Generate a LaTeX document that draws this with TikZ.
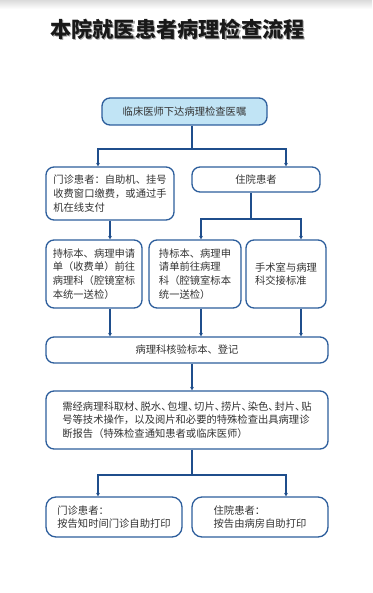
\documentclass[tikz,border=0pt]{standalone}
\usepackage{fontspec}
\setmainfont{Noto Sans CJK SC}
\usepackage{xcolor}
\usetikzlibrary{arrows.meta}
\definecolor{edgeblue}{HTML}{2D5E9C}
\definecolor{lineblue}{HTML}{1F4E8C}
\definecolor{paleblue}{HTML}{C1E4F5}
\definecolor{inkgray}{HTML}{333333}
\newcommand{\dun}{\makebox[0.6em][l]{、}}

\begin{document}
\begin{tikzpicture}[x=1pt,y=-1pt,
    box/.style={draw=edgeblue,line width=1.3pt,rounded corners=8pt,fill=white,
      text=inkgray,font=\fontsize{10.3}{13.7}\selectfont,inner sep=2pt},
    trunk/.style={draw=lineblue,line width=2.2pt},
    branch/.style={draw=lineblue,line width=1.1pt},
    tip/.style={-{Stealth[length=3.5pt,width=3.8pt]}}]
    \useasboundingbox (0,0) rectangle (372,593);
    \shade[top color=black!14,bottom color=white] (0,0) rectangle (372,9);
    % title
    \node[text=black!35,font=\fontsize{21.2}{24}\selectfont\bfseries] (titleshadow) at (178.6,30) {本院就医患者病理检查流程};
    \node[text=black!90,font=\fontsize{21.2}{24}\selectfont\bfseries] (title) at (177.5,29) {本院就医患者病理检查流程};
    % boxes
    \node[box,fill=paleblue,minimum width=165,minimum height=27] (order) at (184.5,111.5) {临床医师下达病理检查医嘱};
    \node[box,align=left,minimum width=128,minimum height=53] (outp) at (110,193.5) {门诊患者：自助机、挂号\\收费窗口缴费，或通过手\\机在线支付};
    \node[box,minimum width=128,minimum height=25] (inp) at (256,179.5) {住院患者};
    \node[box,align=left,minimum width=96,minimum height=68] (carrya) at (94,274) {持标本、病理申请\\单（收费单）前往\\病理科（腔镜室标\\本统一送检）};
    \node[box,align=left,minimum width=92,minimum height=68] (carryb) at (195,274) {持标本、病理申\\请单前往病理\\科（腔镜室标本\\统一送检）};
    \node[box,align=left,minimum width=80,minimum height=68] (surg) at (286,274) {手术室与病理\\科交接标准};
    \node[box,minimum width=282,minimum height=26] (verify) at (187,350) {病理科核验标本、登记};
    \node[box,align=left,minimum width=282,minimum height=58] (proc) at (187,420) {需经病理科取材\dun 脱水\dun 包埋\dun 切片\dun 捞片\dun 染色\dun 封片\dun 贴\\号等技术操作，以及阅片和必要的特殊检查出具病理诊\\断报告（特殊检查通知患者或临床医师）};
    \node[box,align=left,minimum width=136,minimum height=40,rounded corners=10pt] (outrep) at (114,517) {门诊患者：\\按告知时间门诊自助打印};
    \node[box,align=left,minimum width=136,minimum height=40,rounded corners=10pt] (inrep) at (260,517) {住院患者：\\按告由病房自助打印};
    % axes for connectors
    \coordinate (ax) at (192,0);
    \coordinate (xl) at (98,0);
    \coordinate (xr) at (286,0);
    \coordinate (xa) at (110,0);
    \coordinate (xb) at (201,0);
    \coordinate (xc) at (301,0);
    \coordinate (xi) at (251,0);
    \coordinate (fork1) at (192,149);
    \coordinate (fork2) at (251,219);
    \coordinate (fork3) at (192,475);
    % connectors
    \draw[trunk] (order.south -| ax) -- (fork1);
    \draw[branch,tip] (fork1) -| (outp.north -| xl);
    \draw[branch,tip] (fork1) -| (inp.north -| xr);
    \draw[trunk,tip] (outp.south -| xa) -- (carrya.north -| xa);
    \draw[branch] (inp.south -| xi) -- (fork2);
    \draw[branch,tip] (fork2) -| (carryb.north -| xb);
    \draw[branch,tip] (fork2) -| (surg.north -| xc);
    \foreach \from/\ax in {carrya/xa,carryb/xb,surg/xc}
      \draw[trunk,tip] (\from.south -| \ax) -- (verify.north -| \ax);
    \draw[trunk,tip] (verify.south -| ax) -- (proc.north -| ax);
    \draw[trunk] (proc.south -| ax) -- (fork3);
    \draw[branch,tip] (fork3) -| (outrep.north -| xl);
    \draw[branch,tip] (fork3) -| (inrep.north -| xr);
  \end{tikzpicture}
\end{document}
